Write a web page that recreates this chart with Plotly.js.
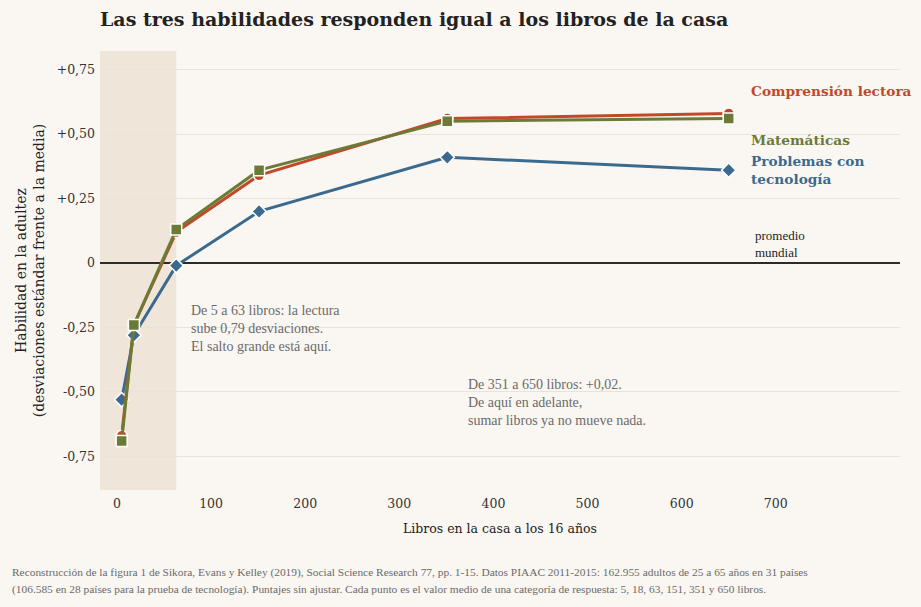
<!DOCTYPE html>
<html>
<head>
<meta charset="utf-8">
<script src="https://cdn.plot.ly/plotly-3.0.1.min.js"></script>
<style>
  html, body { margin: 0; padding: 0; background: #faf7f2; }
  #chart { width: 921px; height: 607px; }
</style>
</head>
<body>
<div id="chart"></div>
<script>
const libros = [5, 18, 63, 151, 351, 650]
const lectura = [-0.67, -0.24, 0.12, 0.34, 0.56, 0.58]
const matematicas = [-0.69, -0.24, 0.13, 0.36, 0.55, 0.56]
const tecnologia = [-0.53, -0.28, -0.01, 0.20, 0.41, 0.36]

const yTicks = [-0.75, -0.5, -0.25, 0, 0.25, 0.5, 0.75]
const yTickText = ['-0,75', '-0,50', '-0,25', '0', '+0,25', '+0,50', '+0,75']
const xTicks = [0, 100, 200, 300, 400, 500, 600, 700]

const serif = 'Georgia, "DejaVu Serif", serif'
const narrow = '"Liberation Serif", "Times New Roman", serif'
const colors = {
  lectura: '#c2482a',
  mate: '#6b7b36',
  tec: '#3b6a8e',
}

function serie(name, y, color, symbol) {
  return {
    x: libros,
    y: y,
    name: name,
    type: 'scatter',
    mode: 'lines+markers',
    line: { color: color, width: 3 },
    marker: {
      color: color,
      symbol: symbol,
      size: 11,
      line: { color: '#ffffff', width: 1.5 },
    },
    hoverinfo: 'x+y+name',
  }
}

const data = [
  serie('Problemas con tecnología', tecnologia, colors.tec, 'diamond'),
  serie('Comprensión lectora', lectura, colors.lectura, 'circle'),
  serie('Matemáticas', matematicas, colors.mate, 'square'),
]

// footnote, two lines placed separately to get the wider line spacing
const nota = [
  'Reconstrucción de la figura 1 de Sikora, Evans y Kelley (2019), Social Science Research 77, pp. 1-15. Datos PIAAC 2011-2015: 162.955 adultos de 25 a 65 años en 31 países',
  '(106.585 en 28 países para la prueba de tecnología). Puntajes sin ajustar. Cada punto es el valor medio de una categoría de respuesta: 5, 18, 63, 151, 351 y 650 libros.',
]

const layout = {
  width: 921,
  height: 607,
  paper_bgcolor: '#faf7f2',
  plot_bgcolor: '#faf7f2',
  showlegend: false,
  margin: { l: 100, r: 21, t: 51, b: 117 },
  font: { family: serif, color: '#222222', size: 13 },
  title: {
    text: '<b>Las tres habilidades responden igual a los libros de la casa</b>',
    font: { family: serif, size: 19, color: '#222222' },
    x: 100 / 921,
    xanchor: 'left',
    y: 1 - 19 / 607,
    yanchor: 'middle',
  },
  xaxis: {
    range: [-18, 832],
    tickvals: xTicks,
    showgrid: false,
    zeroline: false,
    showline: false,
    ticks: '',
    ticklabelstandoff: 4,
    tickfont: { size: 12.5, color: '#333333' },
    title: { text: 'Libros en la casa a los 16 años', font: { size: 12.5, color: '#222222' }, standoff: 14 },
  },
  yaxis: {
    range: [-0.88, 0.822],
    tickvals: yTicks,
    ticktext: yTickText,
    showgrid: true,
    gridcolor: '#e9e3da',
    gridwidth: 1,
    zeroline: true,
    zerolinecolor: '#2b2b2b',
    zerolinewidth: 1.5,
    ticks: '',
    ticklabelstandoff: 4,
    tickfont: { size: 12.5, color: '#333333' },
    title: {
      text: 'Habilidad en la adultez<br>(desviaciones estándar frente a la media)',
      font: { size: 14, color: '#222222' },
      standoff: 8,
    },
  },
  shapes: [
    {
      type: 'rect',
      xref: 'x', yref: 'paper',
      x0: -18, x1: 63, y0: 0, y1: 1,
      fillcolor: '#efe6d9',
      line: { width: 0 },
      layer: 'below',
    },
  ],
  annotations: [
    {
      xref: 'x', yref: 'y', x: 672, y: 0.667,
      xanchor: 'left', yanchor: 'middle',
      text: '<b>Comprensión lectora</b>',
      font: { size: 13.7, color: colors.lectura },
      showarrow: false, align: 'left',
    },
    {
      xref: 'x', yref: 'y', x: 672, y: 0.477,
      xanchor: 'left', yanchor: 'middle',
      text: '<b>Matemáticas</b>',
      font: { size: 13.7, color: colors.mate },
      showarrow: false, align: 'left',
    },
    {
      xref: 'x', yref: 'y', x: 672, y: 0.362,
      xanchor: 'left', yanchor: 'middle',
      text: '<b>Problemas con<br>tecnología</b>',
      font: { size: 13.7, color: colors.tec },
      showarrow: false, align: 'left',
    },
    {
      xref: 'x', yref: 'y', x: 676, y: 0.072,
      xanchor: 'left', yanchor: 'middle',
      text: 'promedio<br>mundial',
      font: { family: narrow, size: 13, color: '#222222' },
      showarrow: false, align: 'left',
    },
    {
      xref: 'x', yref: 'y', x: 77, y: -0.255,
      xanchor: 'left', yanchor: 'middle',
      text: 'De 5 a 63 libros: la lectura<br>sube 0,79 desviaciones.<br>El salto grande está aquí.',
      font: { family: narrow, size: 14, color: '#6a6a6a' },
      showarrow: false, align: 'left',
    },
    {
      xref: 'x', yref: 'y', x: 371, y: -0.54,
      xanchor: 'left', yanchor: 'middle',
      text: 'De 351 a 650 libros: +0,02.<br>De aquí en adelante,<br>sumar libros ya no mueve nada.',
      font: { family: narrow, size: 14, color: '#6a6a6a' },
      showarrow: false, align: 'left',
    },
    {
      xref: 'paper', yref: 'paper', x: -90 / 800, y: -(572 - 490) / 439,
      xanchor: 'left', yanchor: 'middle',
      text: nota[0],
      font: { family: narrow, size: 11.4, color: '#6a6a6a' },
      showarrow: false, align: 'left',
    },
    {
      xref: 'paper', yref: 'paper', x: -90 / 800, y: -(589 - 490) / 439,
      xanchor: 'left', yanchor: 'middle',
      text: nota[1],
      font: { family: narrow, size: 11.4, color: '#6a6a6a' },
      showarrow: false, align: 'left',
    },
  ],
}

Plotly.newPlot('chart', data, layout, { displayModeBar: false, responsive: false })
</script>
</body>
</html>
